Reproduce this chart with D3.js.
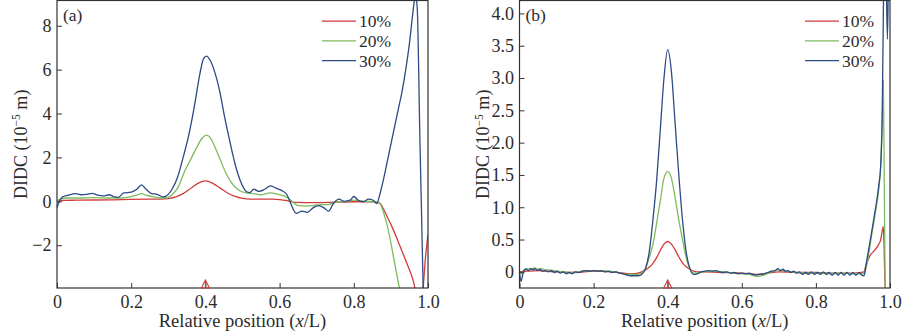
<!DOCTYPE html>
<html>
<head>
<meta charset="utf-8">
<script src="https://cdn.jsdelivr.net/npm/d3@7"></script>
<style>
  body { margin: 0; background: #fff; }
  svg { display: block; }
  text { font-family: "Liberation Serif", "Times New Roman", serif; fill: #2b2b2b; }
</style>
</head>
<body>
<svg id="chart" width="922" height="336"></svg>
<script>
// Damage levels shown in both panels
const levels = ["10%", "20%", "30%"];
const colors = ["#d23a3c", "#7cbb5c", "#2c4a84"];

// Shared x ticks (relative position x/L)
const xTicks = [0, 0.2, 0.4, 0.6, 0.8, 1.0];
const damageAt = 0.4;

// Panel (a) ticks and curves: [x/L, DIDC in 1e-5 m]
const yTicksA = [-2, 0, 2, 4, 6, 8];
const a10 = [[0,0.0],[0.02,0.04],[0.05,0.05],[0.1,0.06],[0.15,0.07],[0.2,0.09],[0.25,0.1],[0.28,0.1],[0.3,0.12],[0.32,0.2],[0.34,0.35],[0.36,0.58],[0.38,0.82],[0.4,0.93],[0.42,0.82],[0.44,0.6],[0.46,0.38],[0.48,0.22],[0.5,0.13],[0.52,0.1],[0.55,0.1],[0.58,0.1],[0.6,0.08],[0.62,0.03],[0.64,-0.05],[0.7,-0.06],[0.75,-0.04],[0.8,-0.02],[0.85,-0.02],[0.87,-0.08],[0.875,-0.2],[0.88,-0.35],[0.89,-0.7],[0.9,-1.05],[0.92,-1.85],[0.94,-2.7],[0.96,-3.6],[0.975,-4.6],[0.985,-4.2],[0.993,-2.6],[1.0,-1.5]];
const a20 = [[0,0.02],[0.01,0.1],[0.03,0.15],[0.06,0.15],[0.1,0.17],[0.14,0.15],[0.17,0.15],[0.2,0.22],[0.215,0.28],[0.228,0.35],[0.24,0.28],[0.26,0.2],[0.28,0.15],[0.295,0.15],[0.31,0.3],[0.325,0.6],[0.345,1.4],[0.36,1.9],[0.375,2.4],[0.39,2.85],[0.403,3.02],[0.413,2.9],[0.425,2.5],[0.44,1.9],[0.455,1.3],[0.47,0.85],[0.49,0.5],[0.51,0.38],[0.53,0.35],[0.55,0.3],[0.575,0.38],[0.6,0.3],[0.62,0.18],[0.635,-0.02],[0.65,-0.2],[0.67,-0.22],[0.69,-0.2],[0.71,-0.15],[0.73,-0.15],[0.75,-0.05],[0.78,0.0],[0.8,0.05],[0.83,0.0],[0.86,-0.02],[0.87,-0.1],[0.875,-0.25],[0.88,-0.5],[0.89,-1.1],[0.9,-1.9],[0.91,-2.8],[0.92,-3.7],[0.93,-4.6],[0.95,-6.5],[0.97,-8],[1.0,-9]];
const a30 = [[0,-0.3],[0.005,-0.05],[0.015,0.2],[0.03,0.28],[0.05,0.35],[0.065,0.3],[0.08,0.32],[0.095,0.36],[0.11,0.28],[0.125,0.25],[0.14,0.3],[0.155,0.2],[0.165,0.18],[0.18,0.38],[0.2,0.42],[0.215,0.55],[0.228,0.75],[0.24,0.55],[0.255,0.35],[0.27,0.32],[0.285,0.2],[0.295,0.25],[0.31,0.55],[0.325,1.1],[0.34,2.0],[0.355,3.0],[0.37,4.3],[0.385,5.8],[0.395,6.5],[0.403,6.62],[0.412,6.45],[0.425,5.9],[0.44,4.9],[0.45,4.0],[0.465,2.8],[0.48,1.7],[0.495,0.9],[0.51,0.45],[0.52,0.4],[0.53,0.55],[0.545,0.45],[0.56,0.55],[0.575,0.7],[0.59,0.6],[0.605,0.5],[0.62,0.3],[0.63,-0.1],[0.645,-0.55],[0.66,-0.45],[0.675,-0.5],[0.69,-0.3],[0.705,-0.2],[0.72,-0.3],[0.732,-0.45],[0.745,-0.1],[0.76,0.1],[0.775,0.0],[0.79,0.05],[0.8,0.22],[0.812,0.05],[0.825,-0.02],[0.84,0.1],[0.852,0.05],[0.862,-0.1],[0.87,0.3],[0.88,1.0],[0.89,1.8],[0.9,2.6],[0.91,3.4],[0.92,4.2],[0.93,5.0],[0.94,6.0],[0.95,7.2],[0.96,8.7],[0.966,9.4],[0.971,8.8],[0.978,3],[0.987,-4],[1.0,-12]];

// Panel (b) ticks and curves
const yTicksB = [0, 0.5, 1.0, 1.5, 2.0, 2.5, 3.0, 3.5, 4.0];
const b10 = [[0,0],[0.02,0.01],[0.05,0.02],[0.1,0.0],[0.15,-0.01],[0.2,0.01],[0.25,0.0],[0.28,-0.02],[0.3,-0.03],[0.32,-0.02],[0.33,0.0],[0.34,0.03],[0.35,0.07],[0.36,0.13],[0.37,0.22],[0.38,0.33],[0.39,0.43],[0.4,0.47],[0.41,0.43],[0.42,0.34],[0.43,0.23],[0.44,0.14],[0.45,0.08],[0.46,0.04],[0.47,0.01],[0.48,0.0],[0.5,0.0],[0.55,-0.01],[0.6,-0.02],[0.64,-0.04],[0.66,-0.03],[0.7,0.0],[0.75,-0.01],[0.8,-0.01],[0.85,-0.02],[0.9,-0.02],[0.93,0.0],[0.935,0.1],[0.946,0.25],[0.958,0.33],[0.968,0.41],[0.975,0.5],[0.98,0.66],[0.982,0.7],[0.984,0.4],[0.986,-0.1],[0.99,-0.4],[1.0,-0.5]];
const b20 = [[0,0.0],[0.006,-0.03],[0.012,0.03],[0.02,0.05],[0.03,0.04],[0.04,0.06],[0.05,0.04],[0.06,0.05],[0.07,0.03],[0.08,0.03],[0.1,0.01],[0.12,0.0],[0.14,-0.01],[0.16,0.0],[0.18,0.02],[0.2,0.02],[0.22,0.02],[0.24,0.01],[0.26,0.0],[0.28,-0.03],[0.3,-0.04],[0.32,-0.04],[0.33,-0.02],[0.34,0.05],[0.35,0.22],[0.36,0.42],[0.37,0.75],[0.38,1.1],[0.39,1.45],[0.4,1.55],[0.41,1.45],[0.42,1.15],[0.43,0.8],[0.44,0.5],[0.45,0.22],[0.46,0.04],[0.47,-0.02],[0.48,-0.02],[0.5,0.0],[0.52,0.01],[0.55,0.0],[0.58,-0.02],[0.6,-0.03],[0.62,-0.04],[0.64,-0.07],[0.66,-0.05],[0.68,0.0],[0.7,0.03],[0.72,0.01],[0.75,-0.01],[0.78,-0.02],[0.81,-0.02],[0.84,-0.03],[0.87,-0.02],[0.9,-0.03],[0.925,-0.03],[0.93,-0.02],[0.935,0.05],[0.95,0.55],[0.96,0.9],[0.97,1.3],[0.975,1.65],[0.979,2.4],[0.982,2.97],[0.985,1.0],[0.988,-0.5],[1.0,-1]];
const b30 = [[0,0.0],[0.004,-0.15],[0.008,-0.06],[0.012,0.02],[0.018,0.04],[0.024,0.02],[0.03,0.05],[0.036,0.03],[0.042,0.05],[0.048,0.02],[0.055,0.04],[0.062,0.01],[0.07,0.02],[0.078,0.0],[0.086,0.02],[0.094,-0.01],[0.102,0.01],[0.11,-0.02],[0.118,0.0],[0.126,-0.03],[0.134,-0.01],[0.142,-0.03],[0.15,0.0],[0.16,-0.01],[0.17,0.01],[0.18,0.02],[0.19,0.01],[0.2,0.02],[0.21,0.01],[0.22,0.02],[0.23,0.0],[0.24,0.01],[0.25,-0.01],[0.26,0.0],[0.27,-0.02],[0.28,-0.03],[0.29,-0.05],[0.3,-0.06],[0.31,-0.06],[0.32,-0.06],[0.33,-0.04],[0.34,0.05],[0.35,0.3],[0.36,0.8],[0.37,1.4],[0.38,2.2],[0.39,3.0],[0.4,3.44],[0.41,3.1],[0.42,2.3],[0.43,1.5],[0.44,0.8],[0.45,0.3],[0.46,0.05],[0.47,-0.04],[0.48,-0.03],[0.49,0.0],[0.5,0.01],[0.51,0.02],[0.52,0.01],[0.53,0.02],[0.54,0.0],[0.55,-0.01],[0.56,0.0],[0.57,-0.02],[0.58,-0.01],[0.59,-0.03],[0.6,-0.02],[0.61,-0.03],[0.62,-0.02],[0.63,-0.04],[0.64,-0.05],[0.65,-0.04],[0.66,-0.03],[0.67,-0.01],[0.68,0.01],[0.69,0.02],[0.697,0.05],[0.704,0.02],[0.711,0.04],[0.718,0.01],[0.725,0.02],[0.732,-0.01],[0.74,0.01],[0.748,-0.02],[0.756,0.0],[0.764,-0.04],[0.772,-0.01],[0.78,-0.04],[0.788,0.0],[0.796,-0.04],[0.804,-0.01],[0.812,-0.04],[0.82,0.0],[0.828,-0.04],[0.836,-0.01],[0.844,-0.05],[0.852,-0.01],[0.86,-0.05],[0.868,-0.01],[0.876,-0.05],[0.884,-0.01],[0.892,-0.05],[0.9,-0.01],[0.908,-0.05],[0.916,-0.01],[0.924,-0.05],[0.93,-0.06],[0.935,0.1],[0.95,0.6],[0.96,0.95],[0.97,1.35],[0.975,1.65],[0.979,2.4],[0.983,4.5],[0.987,5.2],[0.99,4.5],[0.993,3.6],[0.996,4.6],[1.0,5.2]];

const svg = d3.select("#chart");
const fmtX = d => d === 0 ? "0" : d.toFixed(1);
const fmtA = d => d < 0 ? "\u2212" + Math.abs(d) : String(d);

function drawPanel(p) {
  const x = d3.scaleLinear().domain([0, 1]).range([p.left, p.right]);
  const y = d3.scaleLinear().domain(p.yDomain).range([p.bottom, p.top]);
  const g = svg.append("g");

  g.append("clipPath").attr("id", "clip-" + p.id)
    .append("rect").attr("x", p.left).attr("y", p.top)
    .attr("width", p.right - p.left).attr("height", p.bottom - p.top);

  const line = d3.line().x(d => x(d[0])).y(d => y(d[1])).curve(d3.curveMonotoneX);
  const lines = g.append("g").attr("clip-path", `url(#clip-${p.id})`);
  p.series.forEach((s, i) => {
    lines.append("path").datum(s).attr("d", line)
      .attr("fill", "none").attr("stroke", colors[i]).attr("stroke-width", 1.3)
      .attr("stroke-linejoin", "round");
  });

  // axes with inward ticks
  const xa = g.append("g").attr("transform", `translate(0,${p.bottom})`)
    .call(d3.axisBottom(x).tickValues(xTicks).tickSize(-5).tickPadding(7.5).tickFormat(fmtX));
  const ya = g.append("g").attr("transform", `translate(${p.left},0)`)
    .call(d3.axisLeft(y).tickValues(p.yTicks).tickSize(-5).tickPadding(5.5).tickFormat(p.yFmt));
  [xa, ya].forEach(a => {
    a.select(".domain").remove();
    a.selectAll("line").attr("stroke", "#333").attr("stroke-width", 1);
    a.selectAll("text").attr("font-size", 18).attr("fill", "#2b2b2b")
      .style("font-family", '"Liberation Serif", serif');
  });

  // frame
  g.append("rect").attr("x", p.left).attr("y", p.top)
    .attr("width", p.right - p.left).attr("height", p.bottom - p.top)
    .attr("fill", "none").attr("stroke", "#333").attr("stroke-width", 1.2);

  // damage location marker
  const mx = x(damageAt), mb = p.bottom;
  g.append("path")
    .attr("d", `M${mx - 4},${mb} L${mx},${mb - 8} L${mx + 4},${mb} Z M${mx},${mb} L${mx},${mb - 8}`)
    .attr("fill", "none").attr("stroke", colors[0]).attr("stroke-width", 1.1);

  // panel tag
  g.append("text").attr("x", p.left + 6).attr("y", p.top + 20)
    .attr("font-size", 17.5).text(p.tag);

  // legend
  levels.forEach((lab, i) => {
    const cy = p.top + 20.7 + i * 19.7;
    g.append("line").attr("x1", p.legendX).attr("x2", p.legendX + 34)
      .attr("y1", cy).attr("y2", cy).attr("stroke", colors[i]).attr("stroke-width", 1.3);
    g.append("text").attr("x", p.legendX + 37).attr("y", cy + 6)
      .attr("font-size", 17.5).text(lab);
  });

  // axis titles
  const xt = g.append("text").attr("x", (p.left + p.right) / 2).attr("y", 327)
    .attr("text-anchor", "middle").attr("font-size", 18.5);
  xt.append("tspan").text("Relative position (");
  xt.append("tspan").attr("font-style", "italic").text("x");
  xt.append("tspan").text("/L)");

  const yt = g.append("text")
    .attr("transform", `translate(${p.left - 30.5},${(p.top + p.bottom) / 2}) rotate(-90)`)
    .attr("text-anchor", "middle").attr("font-size", 18);
  yt.append("tspan").text("DIDC (10");
  yt.append("tspan").attr("font-size", 11.5).attr("dy", -6.5).text("\u22125");
  yt.append("tspan").attr("dy", 6.5).text(" m)");
}

drawPanel({ id: "a", left: 57, right: 428, top: 0.5, bottom: 288, yDomain: [-3.95, 9.15],
  yTicks: yTicksA, yFmt: fmtA, series: [a10, a20, a30], tag: "(a)", legendX: 322 });
drawPanel({ id: "b", left: 519.5, right: 890, top: 0.5, bottom: 288, yDomain: [-0.25, 4.2],
  yTicks: yTicksB, yFmt: fmtX, series: [b10, b20, b30], tag: "(b)", legendX: 805 });
</script>
</body>
</html>
